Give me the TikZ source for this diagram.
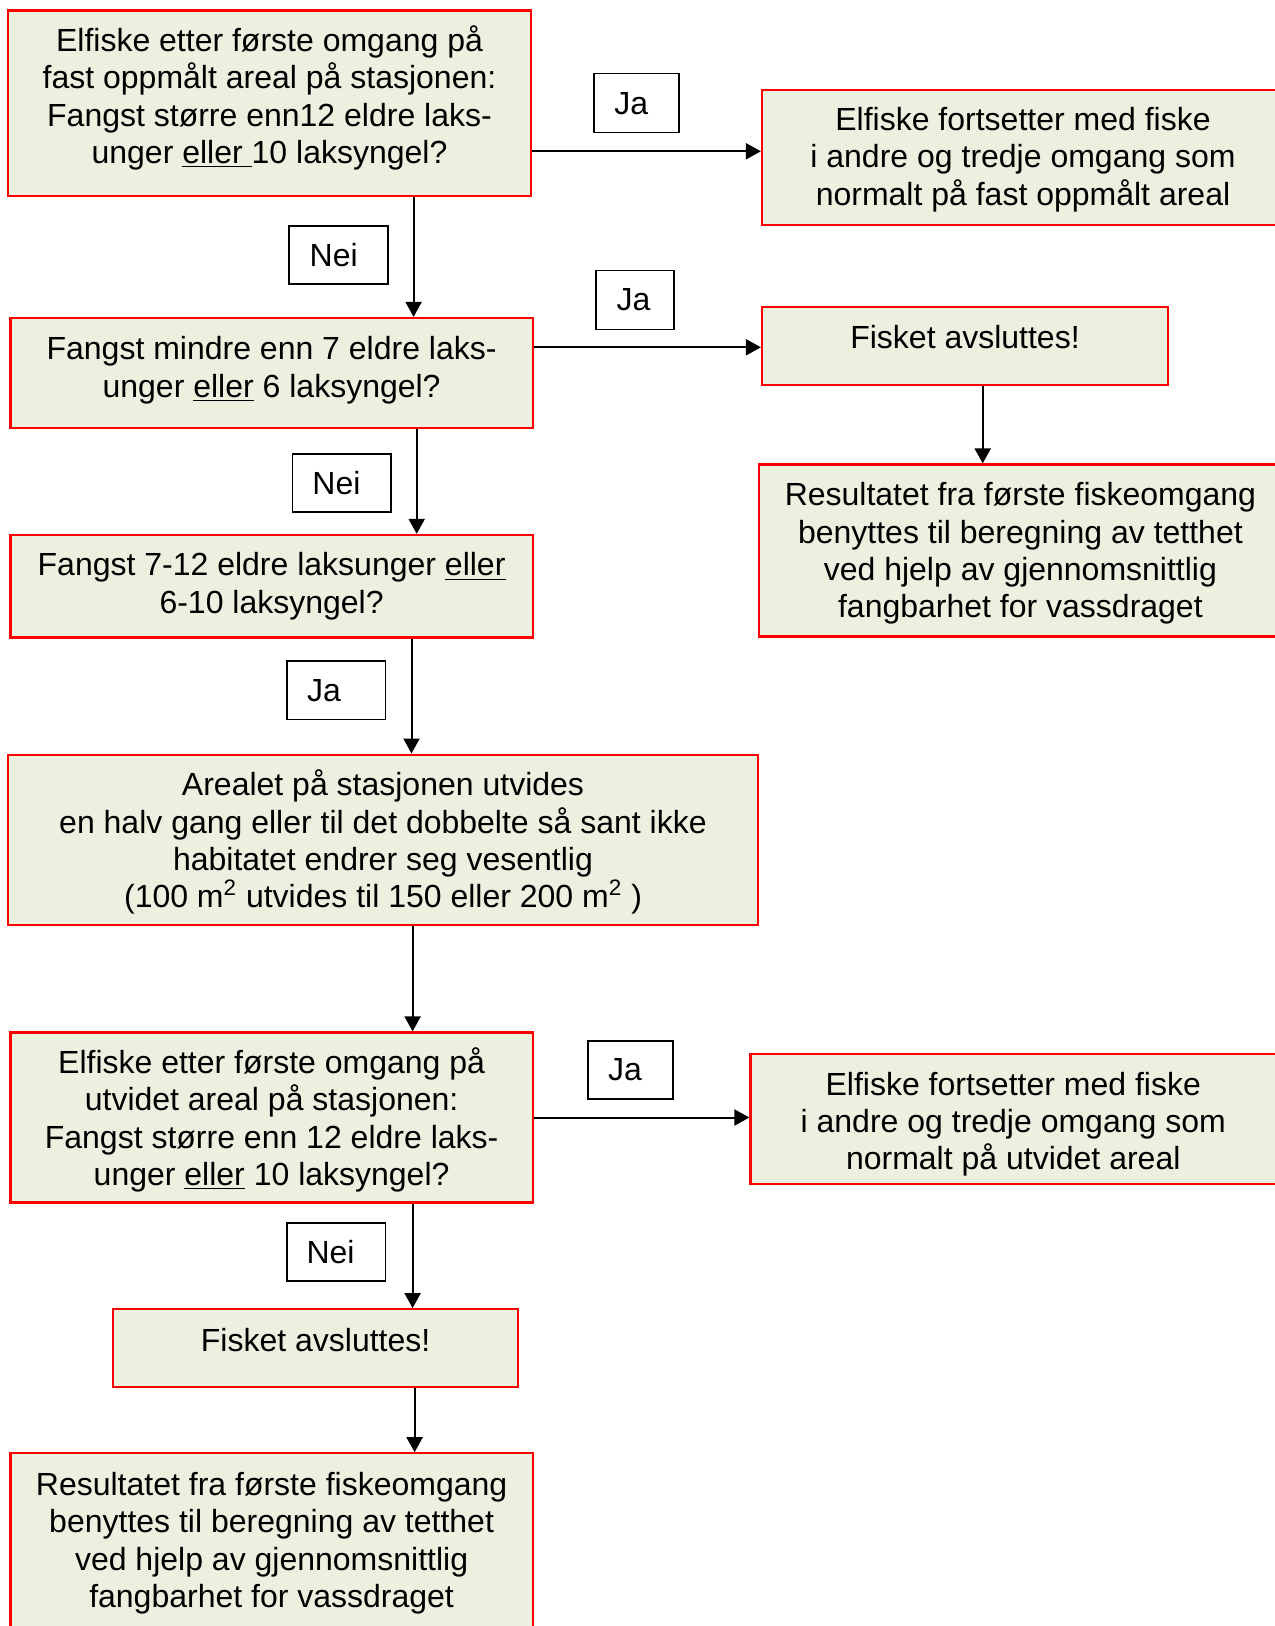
\documentclass[tikz,border=0pt]{standalone}
\usepackage{fontspec}
\setmainfont{Liberation Sans}
\usepackage{tikz}
\usetikzlibrary{arrows.meta}
\definecolor{boxgreen}{HTML}{EBF1DE}
\definecolor{boxred}{HTML}{FF0000}
\tikzstyle{stepbox} = [draw=boxred, fill=boxgreen, line width=1.1pt, align=center, inner sep=0pt, font=\fontsize{16}{18.65}\selectfont]
\tikzset{tag/.style={draw=black, line width=0.8pt, fill=white, inner sep=0pt, font=\fontsize{16}{18.65}\selectfont, execute at end node={\kern#1}}}
\tikzstyle{arrow} = [line width=1pt, -{Triangle[length=7.5pt,width=8pt]}]

\begin{document}
\begin{tikzpicture}[x=0.5pt,y=-0.5pt]
			\useasboundingbox (0,0) rectangle (1274,1626);
			% left column
			\node[stepbox, minimum width=261.2pt, minimum height=92.75pt, text depth=8.6pt] (askA) at (269.5,103.2) {Elfiske etter første omgang på\\ fast oppmålt areal på stasjonen:\\ Fangst større enn12 eldre laks-\\ unger \underline{eller\ }10 laksyngel?};
			\node[stepbox, minimum width=261.2pt, minimum height=55pt, text depth=6pt] (askB) at (271.6,373) {Fangst mindre enn 7 eldre laks-\\ unger \underline{eller} 6 laksyngel?};
			\node[stepbox, minimum width=261.2pt, minimum height=51.25pt] (askC) at (271.6,586.2) {Fangst 7-12 eldre laksunger \underline{eller}\\ 6-10 laksyngel?};
			\node[stepbox, minimum width=374.75pt, minimum height=85pt, text depth=0.8pt] (widen) at (383,839.6) {Arealet på stasjonen utvides\\ en halv gang eller til det dobbelte så sant ikke\\ habitatet endrer seg vesentlig\\ (100 m\textsuperscript{2} utvides til 150 eller 200 m\textsuperscript{2} )};
			\node[stepbox, minimum width=261.2pt, minimum height=85pt, text depth=0.8pt] (askD) at (271.6,1117.5) {Elfiske etter første omgang på\\ utvidet areal på stasjonen:\\ Fangst større enn 12 eldre laks-\\ unger \underline{eller} 10 laksyngel?};
			\node[stepbox, minimum width=202.65pt, minimum height=38.9pt, text depth=8.3pt] (stopB) at (315.6,1348.1) {Fisket avsluttes!};
			\node[stepbox, minimum width=261.2pt, minimum height=87pt, text depth=0.3pt] (resB) at (271.6,1540.3) {Resultatet fra første fiskeomgang\\ benyttes til beregning av tetthet\\ ved hjelp av gjennomsnittlig\\ fangbarhet for vassdraget};
			% right column (cut by the page edge)
			\node[stepbox, minimum width=261pt, minimum height=67.4pt, text depth=1.3pt] (contA) at (1023,157.6) {Elfiske fortsetter med fiske\\ i andre og tredje omgang som\\ normalt på fast oppmålt areal};
			\node[stepbox, minimum width=203pt, minimum height=38.9pt, text depth=8.3pt] (stopA) at (965,345.7) {Fisket avsluttes!};
			\node[stepbox, minimum width=261.6pt, minimum height=86pt, text depth=0.3pt] (resA) at (1020.4,550.5) {Resultatet fra første fiskeomgang\\ benyttes til beregning av tetthet\\ ved hjelp av gjennomsnittlig\\ fangbarhet for vassdraget};
			\node[stepbox, minimum width=262.75pt, minimum height=64.8pt, text height=50.8pt, text depth=0pt] (contB) at (1013.25,1119) {Elfiske fortsetter med fiske\\ i andre og tredje omgang som\\ normalt på utvidet areal};
			% answers
			\node[tag=5.2pt, minimum width=42.5pt, minimum height=29.5pt] (jaA) at (636.5,103.2) {Ja};
			\node[tag=4.7pt, minimum width=49.3pt, minimum height=29pt] (neiA) at (338.4,255) {Nei};
			\node[tag=1.5pt, minimum width=38.9pt, minimum height=29.5pt] (jaB) at (634.9,300.1) {Ja};
			\node[tag=5.2pt, minimum width=49.3pt, minimum height=29pt] (neiB) at (341.6,483) {Nei};
			\node[tag=12.4pt, minimum width=49.3pt, minimum height=29.2pt] (jaC) at (336.3,690.2) {Ja};
			\node[tag=5.2pt, minimum width=42.5pt, minimum height=29pt] (jaD) at (630.3,1069.8) {Ja};
			\node[tag=5.7pt, minimum width=49.3pt, minimum height=29pt] (neiC) at (336.3,1252.2) {Nei};
			% lanes for the connectors
			\coordinate (laneA) at (413.6,0);
			\coordinate (laneB) at (416.7,0);
			\coordinate (laneC) at (411.5,0);
			\coordinate (laneD) at (412.6,0);
			\coordinate (laneE) at (414.6,0);
			\coordinate (laneR) at (982.7,0);
			\coordinate (rowA) at (0,151.3);
			\coordinate (rowB) at (0,347.3);
			\coordinate (rowC) at (0,1117.5);
			\draw[arrow] (askA.east |- rowA) -- (contA.west |- rowA);
			\draw[arrow] (askA.south -| laneA) -- (askB.north -| laneA);
			\draw[arrow] (askB.east |- rowB) -- (stopA.west |- rowB);
			\draw[arrow] (stopA.south -| laneR) -- (resA.north -| laneR);
			\draw[arrow] (askB.south -| laneB) -- (askC.north -| laneB);
			\draw[arrow] (askC.south -| laneC) -- (widen.north -| laneC);
			\draw[arrow] (widen.south -| laneD) -- (askD.north -| laneD);
			\draw[arrow] (askD.east |- rowC) -- (contB.west |- rowC);
			\draw[arrow] (askD.south -| laneD) -- (stopB.north -| laneD);
			\draw[arrow] (stopB.south -| laneE) -- (resB.north -| laneE);
		\end{tikzpicture}
\end{document}
